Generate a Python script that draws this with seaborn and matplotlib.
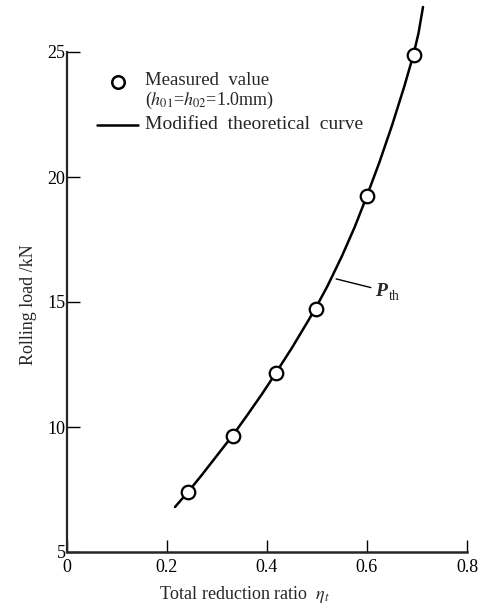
import matplotlib
matplotlib.use("Agg")
import matplotlib.pyplot as plt
import seaborn as sns
import pandas as pd

# measured points (h01 = h02 = 1.0 mm)
measured_ratio = [0.242, 0.332, 0.417, 0.497, 0.599, 0.693]
measured_load = [7.4, 9.64, 12.17, 14.71, 19.25, 24.88]

# modified theoretical curve
curve_ratio = [0.216, 0.242, 0.27, 0.30, 0.332, 0.36, 0.39, 0.417, 0.45,
               0.48, 0.497, 0.52, 0.55, 0.575, 0.599, 0.625, 0.65, 0.675,
               0.693, 0.703, 0.712]
curve_load = [6.8, 7.4, 8.09, 8.86, 9.68, 10.46, 11.32, 12.14, 13.17,
              14.17, 14.75, 15.6, 16.84, 17.98, 19.2, 20.6, 22.06, 23.65,
              24.9, 25.75, 26.8]

x_ticks = [0, 0.2, 0.4, 0.6, 0.8]
x_ticklabels = ["0", "0.2", "0.4", "0.6", "0.8"]
y_ticks = [5, 10, 15, 20, 25]

sns.set_style("ticks")
plt.rcParams["font.family"] = ["Liberation Serif", "DejaVu Serif"]
plt.rcParams["mathtext.fontset"] = "stix"

fig = plt.figure(figsize=(4.87, 6.06), dpi=100)
ax = fig.add_axes([67 / 487, 54 / 606, 400 / 487, 550 / 606])

curve = pd.DataFrame({"ratio": curve_ratio, "load": curve_load})
meas = pd.DataFrame({"ratio": measured_ratio, "load": measured_load})

sns.lineplot(data=curve, x="ratio", y="load", color="black", lw=1.8,
             sort=False, ax=ax, zorder=2)
sns.scatterplot(data=meas, x="ratio", y="load", marker="o", s=95,
                facecolor="white", edgecolor="black", linewidth=1.6,
                ax=ax, zorder=3)

ax.set_xlim(0, 0.8)
ax.set_ylim(5, 27)
ax.set_xticks(x_ticks)
ax.set_xticklabels(x_ticklabels)
ax.set_yticks(y_ticks)
ax.tick_params(direction="in", length=9, width=1.0, labelsize=13,
               colors="black")
ax.tick_params(axis="y", pad=1)
ax.tick_params(axis="x", pad=5)
sns.despine(ax=ax)
ax.spines["left"].set_bounds(5, 25)
ax.spines["left"].set_linewidth(1.6)
ax.spines["bottom"].set_linewidth(1.8)

ax.set_xlabel(r"Total reduction ratio  $\eta_t$", fontsize=13)
ax.set_ylabel("Rolling load /kN", fontsize=13)
ax.xaxis.set_label_coords(0.445, -0.059)
ax.yaxis.set_label_coords(-0.075, 0.449)

# legend drawn by hand
tr = ax.transAxes
ax.plot([0.1275], [0.8545], marker="o", ms=9, mfc="white", mec="black",
        mew=1.8, transform=tr, clip_on=False)
ax.text(0.195, 0.858, "Measured  value", transform=tr, fontsize=13.5,
        va="center", ha="left")
ax.text(0.195, 0.821, r"($h_{01}$=$h_{02}$=1.0mm)", transform=tr,
        fontsize=13, va="center", ha="left")
ax.plot([0.075, 0.1775], [0.777, 0.777], color="black", lw=1.8, transform=tr)
ax.text(0.195, 0.777, "Modified  theoretical  curve", transform=tr,
        fontsize=14, va="center", ha="left")

# P_th label with leader line
ax.annotate("", xy=(0.533, 15.95), xytext=(0.613, 15.55),
            arrowprops=dict(arrowstyle="-", color="black", lw=1.0))
ax.text(0.617, 15.4, "P", fontsize=14, fontweight="bold", style="italic",
        va="center", ha="left")
ax.text(0.644, 15.2, "th", fontsize=10, va="center", ha="left")

fig.savefig("out.png", dpi=100)
